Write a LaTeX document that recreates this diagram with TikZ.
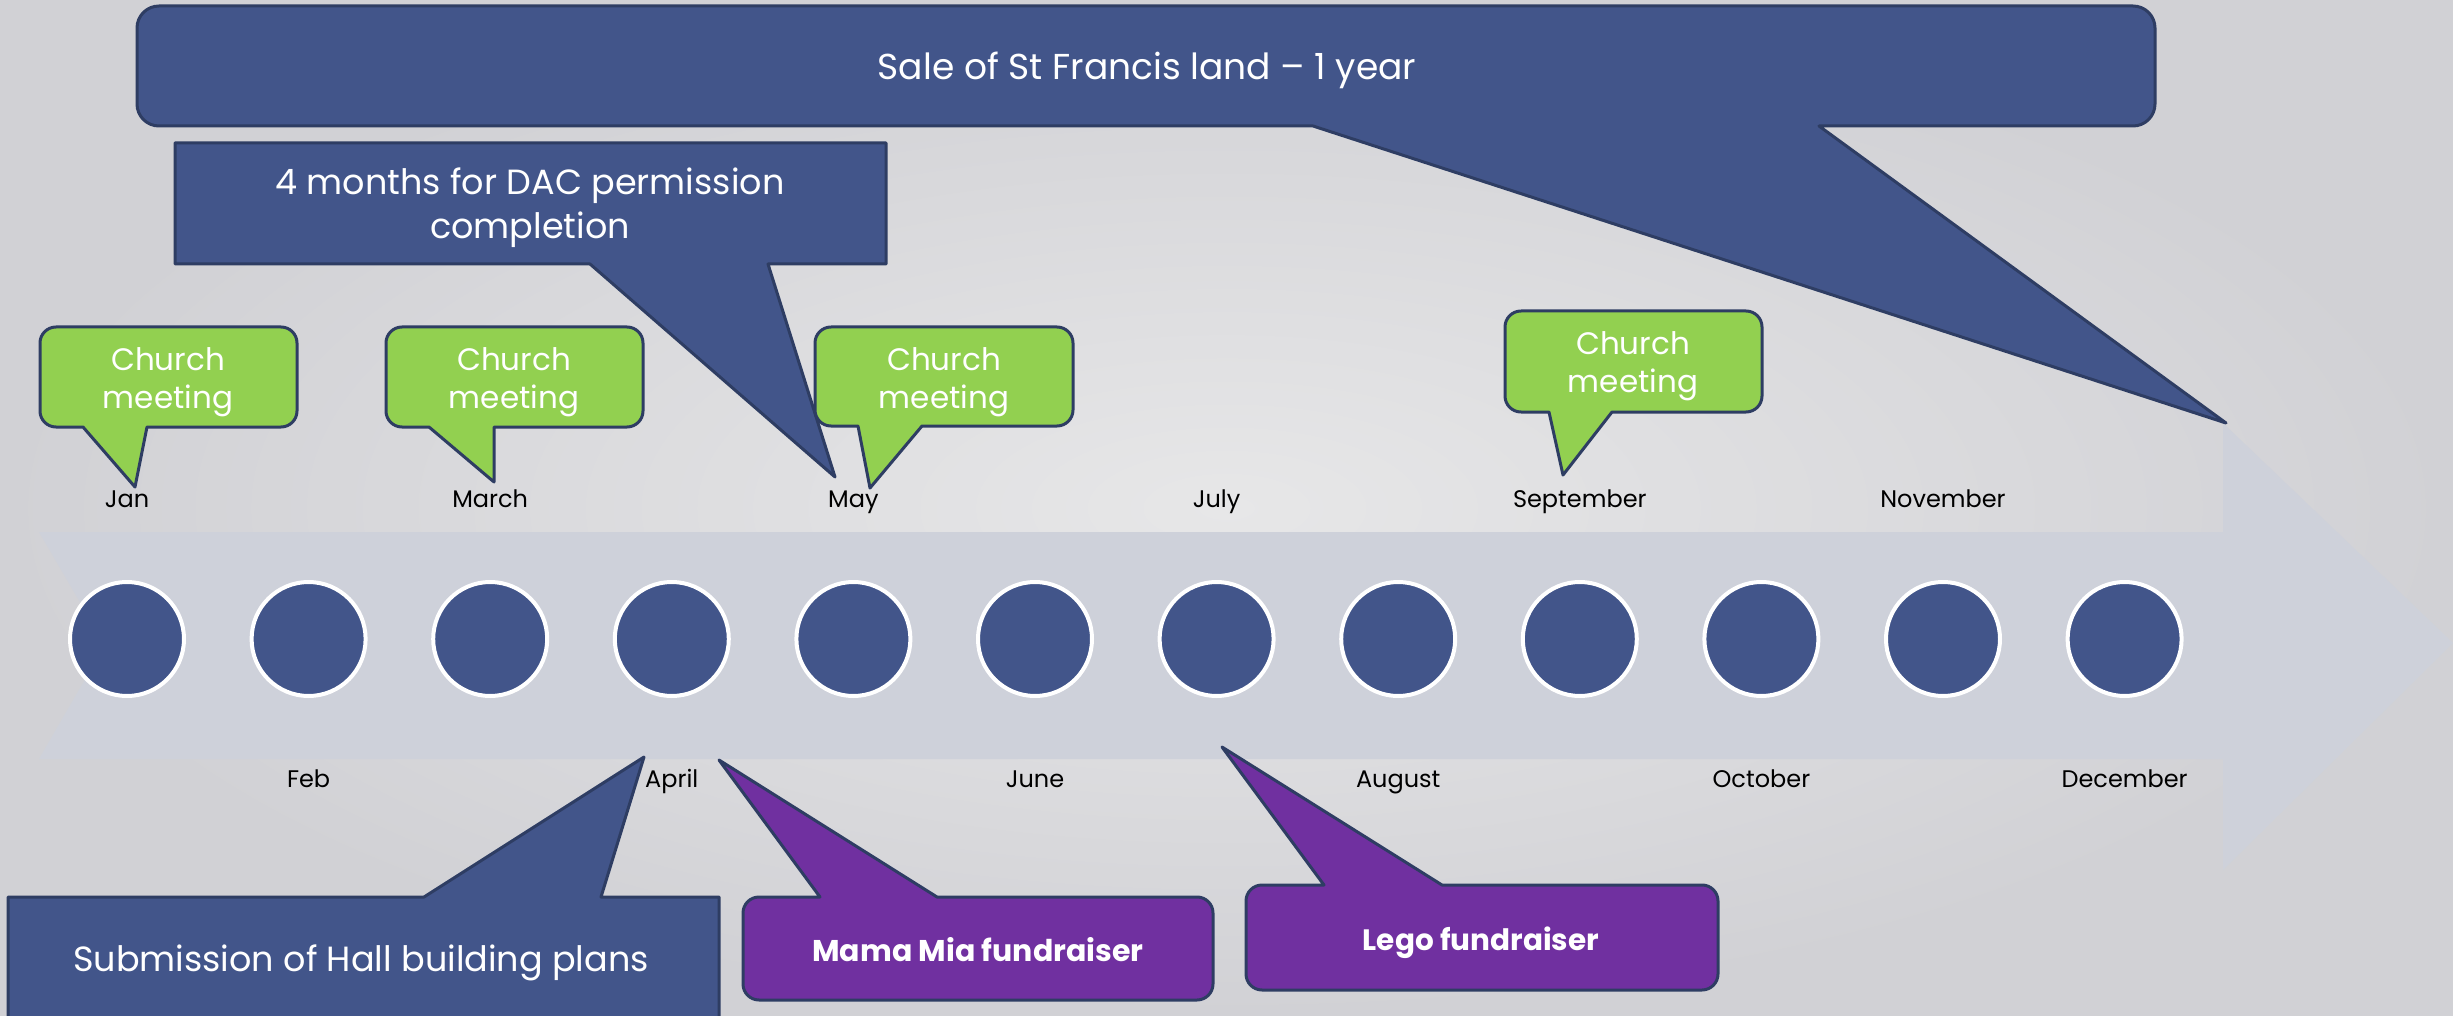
\documentclass[tikz,border=0pt]{standalone}
\usepackage{fontspec}
\setmainfont{Poppins}
\definecolor{navy}{HTML}{42558A}
\definecolor{navyline}{HTML}{2E3D63}
\definecolor{grn}{HTML}{92D050}
\definecolor{purp}{HTML}{7030A0}
\definecolor{band}{HTML}{CED1DA}
\definecolor{bgin}{HTML}{E7E7E8}
\definecolor{bgout}{HTML}{D1D1D5}
\def\bubr{20}
% pointer at bottom: style, x1, yt, x2, yb, pb1, pb2, tipx, tipy
\newcommand{\bubdown}[9]{\path[#1] (#7,#5) -- (#8,#9) -- (#6,#5) -- ({#2+\bubr},#5) arc[start angle=90,end angle=180,radius=\bubr] -- (#2,{#3+\bubr}) arc[start angle=180,end angle=270,radius=\bubr] -- ({#4-\bubr},#3) arc[start angle=-90,end angle=0,radius=\bubr] -- (#4,{#5-\bubr}) arc[start angle=0,end angle=90,radius=\bubr] -- cycle;}
% pointer at top
\newcommand{\bubup}[9]{\path[#1] (#6,#3) -- (#8,#9) -- (#7,#3) -- ({#4-\bubr},#3) arc[start angle=-90,end angle=0,radius=\bubr] -- (#4,{#5-\bubr}) arc[start angle=0,end angle=90,radius=\bubr] -- ({#2+\bubr},#5) arc[start angle=90,end angle=180,radius=\bubr] -- (#2,{#3+\bubr}) arc[start angle=180,end angle=270,radius=\bubr] -- cycle;}
\begin{document}
\begin{tikzpicture}[x=1pt,y=-1pt,
  navybox/.style={fill=navy,draw=navyline,line width=3pt,line join=round},
  grnbox/.style={fill=grn,draw=navyline,line width=3pt,line join=round},
  purpbox/.style={fill=purp,draw=navyline,line width=3pt,line join=round},
  mcirc/.style={circle,minimum size=114pt,inner sep=0pt,fill=navy,draw=white,line width=4pt},
  mlab/.style={anchor=base,inner sep=0pt,font=\fontsize{24}{28}\selectfont,text=black},
  wtxt/.style={anchor=base,inner sep=0pt,text=white,align=center},
  church/.style={wtxt,font=\fontsize{31}{38}\selectfont},
]
\shade[inner color=bgin,outer color=bgout] (0,0) rectangle (2453,1016);
\useasboundingbox (0,0) rectangle (2453,1016);
% timeline band
\fill[band] (39,532) -- (2223,532) -- (2223,423) -- (2453,643) -- (2223,870) -- (2223,759) -- (39,759) -- (105,645) -- cycle;
% circles and month labels
\foreach \i in {0,...,11} \node[mcirc] (c\i) at ({127+181.6*\i},639) {};
\foreach \i/\m in {0/Jan,2/March,4/May,6/July,8/September,10/November}
  \node[mlab] (m\i) at ({127+181.6*\i},507) {\m};
\foreach \i/\m in {1/Feb,3/April,5/June,7/August,9/October,11/December}
  \node[mlab] (m\i) at ({127+181.6*\i},787) {\m};
% Sale callout
\def\bubr{22}
\bubdown{navybox}{137}{6}{2155}{126}{1313}{1819}{2226}{423}
\node[wtxt,font=\fontsize{36}{42}\selectfont] (tsale) at (1147,80) {Sale of St Francis land – 1 year};
% DAC callout
\path[navybox] (175,143) -- (886,143) -- (886,264) -- (768,264) -- (835,477) -- (590,264) -- (175,264) -- cycle;
\node[wtxt,font=\fontsize{35}{44}\selectfont] (tdac) at (530,239) {4 months for DAC permission\\completion};
% Church meetings
\def\bubr{16}
\bubdown{grnbox}{40}{327}{297}{427}{83}{147}{135}{487}
\bubdown{grnbox}{386}{327}{643}{427}{429}{494}{494}{482}
\bubdown{grnbox}{815}{327}{1073}{426}{858}{922}{870}{488}
\bubdown{grnbox}{1505}{311}{1762}{412}{1549}{1612}{1563}{475}
\node[church] (tc1) at (168,408) {Church\\meeting};
\node[church] (tc2) at (514,408) {Church\\meeting};
\node[church] (tc3) at (944,408) {Church\\meeting};
\node[church] (tc4) at (1633,392) {Church\\meeting};
% Submission
\path[navybox] (8,897) -- (424,897) -- (644,757) -- (601,897) -- (719,897) -- (719,1030) -- (8,1030) -- cycle;
\node[wtxt,font=\fontsize{35}{40}\selectfont] (tsub) at (361,971) {Submission of Hall building plans};
% fundraisers
\bubup{purpbox}{743}{897}{1213}{1000}{820}{937}{719}{760}
\node[wtxt,font=\fontsize{30}{34}\selectfont\bfseries] (tmama) at (978,961) {Mama Mia fundraiser};
\bubup{purpbox}{1246}{885}{1718}{990}{1324}{1442}{1222}{747}
\node[wtxt,font=\fontsize{29.5}{34}\selectfont\bfseries] (tlego) at (1481,950) {Lego fundraiser};
\end{tikzpicture}
\end{document}
